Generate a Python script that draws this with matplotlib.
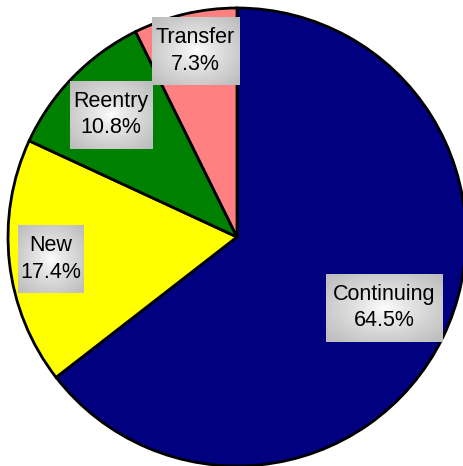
import numpy as np
import matplotlib.pyplot as plt

labels = ['Continuing', 'New', 'Reentry', 'Transfer']
shares = [64.5, 17.4, 10.8, 7.3]
colors = ['#000080', '#ffff00', '#008000', '#ff8080']
# label centres (axes units, radius = 1)
label_xy = [(0.642, -0.308), (-0.812, -0.096), (-0.550, 0.535), (-0.181, 0.812)]

plt.rcParams['font.family'] = ['Liberation Sans', 'DejaVu Sans']

fig = plt.figure(figsize=(4.64, 4.66), dpi=100)
ax = fig.add_axes([0, 0, 1, 1])
ax.pie(shares, colors=colors, startangle=90, counterclock=False, radius=1,
       wedgeprops=dict(edgecolor='black', linewidth=2))
ax.set_aspect('auto')
ax.axis('off')

texts = []
for name, val, (x, y) in zip(labels, shares, label_xy):
    t = ax.text(x, y, f'{name}\n{val}%', ha='center', va='center',
                fontsize=15.5, linespacing=1.35, color='black', zorder=5)
    texts.append(t)

fig.canvas.draw()
r = fig.canvas.get_renderer()
gx, gy = np.meshgrid(np.linspace(-1, 1, 120), np.linspace(-1, 1, 120))
grad = 1 - 0.27 * np.clip(np.sqrt(gx ** 2 + gy ** 2) / np.sqrt(2), 0, 1) ** 0.8
inv = ax.transData.inverted()
for t in texts:
    bb = t.get_window_extent(r)
    (x0, y0) = inv.transform((bb.x0 + 4, bb.y0 - 4))
    (x1, y1) = inv.transform((bb.x1 - 4, bb.y1 + 3))
    ax.imshow(grad, cmap='gray', vmin=0, vmax=1, extent=(x0, x1, y0, y1),
              aspect='auto', zorder=4, interpolation='bilinear')

ax.set_xlim(-237 / 229, 227 / 229)
ax.set_ylim(-229 / 229, 237 / 229)
fig.savefig('out.png', dpi=100)
